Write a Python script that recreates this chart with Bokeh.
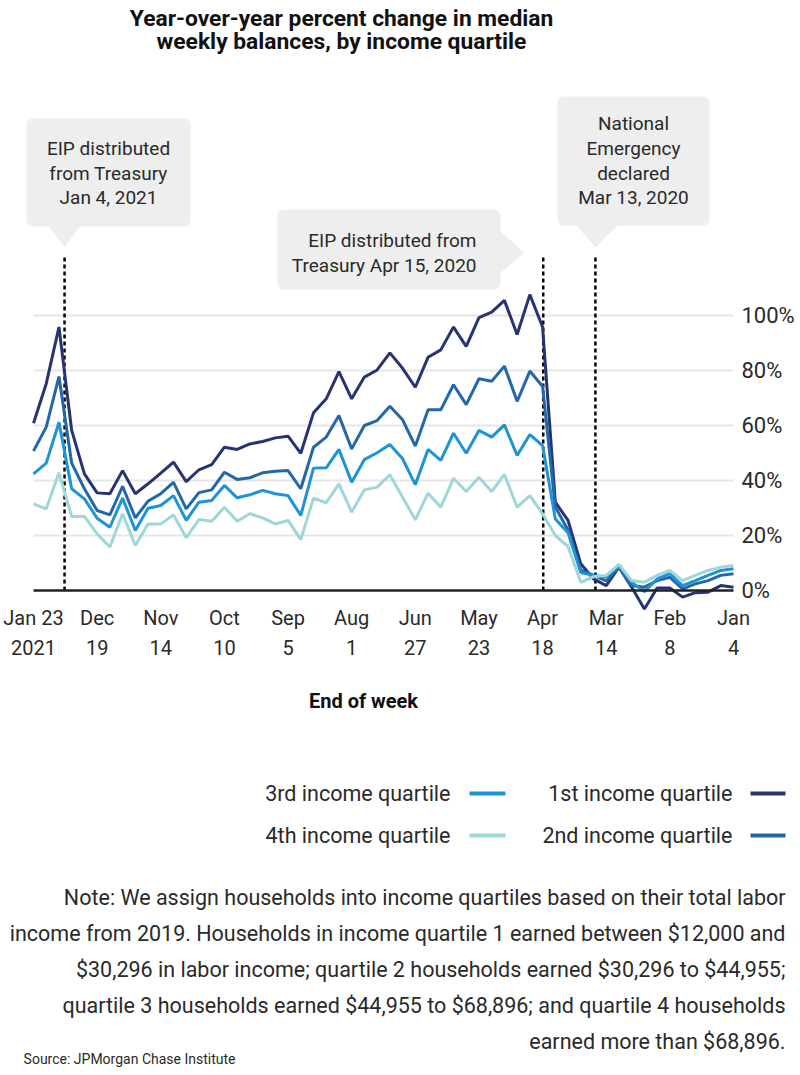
from bokeh.plotting import figure
from bokeh.models import (Range1d, FixedTicker, PrintfTickFormatter, Label, BoxAnnotation)
from bokeh.embed import file_html
from bokeh.resources import INLINE

# ---------------- data ----------------
tick_weeks = [0, 5, 10, 15, 20, 25, 30, 35, 40, 45, 50, 55]
tick_labels = ["Jan\n4", "Feb\n8", "Mar\n14", "Apr\n18", "May\n23", "Jun\n27",
               "Aug\n1", "Sep\n5", "Oct\n10", "Nov\n14", "Dec\n19", "Jan 23\n2021"]
y_ticks = [0, 20, 40, 60, 80, 100]

q1 = [1.2, 1.8, -0.6, -0.8, -2.4, 0.9, 0.9, -6.7, 1.2, 8.5,
      1.8, 4.2, 9.7, 25.5, 32.1, 95.8, 107.6, 93.1, 105.5, 101.2,
      99.2, 88.8, 95.8, 87.5, 84.8, 73.9, 80.8, 86.4, 80.2, 77.6,
      69.7, 79.6, 69.7, 64.6, 49.9, 56.1, 55.5, 54.2, 53.3, 51.3,
      52.1, 45.8, 43.9, 39.6, 46.7, 42.7, 38.8, 35.2, 43.6, 35.2,
      35.5, 42.4, 58.2, 95.8, 75.2, 60.8]
q2 = [6.1, 5.5, 3.6, 2.4, 0.6, 4.8, 3.6, 1.2, 1.8, 8.5,
      3.5, 5.5, 7.5, 22.0, 30.3, 74.2, 79.8, 68.8, 81.6, 76.1,
      77.0, 67.6, 74.8, 65.7, 65.7, 52.5, 62.1, 67.0, 61.8, 60.0,
      51.5, 63.6, 55.8, 52.1, 37.0, 43.6, 43.4, 42.8, 41.0, 40.4,
      43.0, 36.6, 35.6, 29.7, 39.3, 35.2, 32.5, 26.4, 37.9, 27.5,
      29.1, 37.0, 46.3, 77.8, 59.4, 50.7]
q3 = [7.9, 7.3, 5.5, 3.6, 1.8, 6.1, 4.2, -0.4, 3.0, 9.0,
      5.0, 5.5, 6.5, 21.0, 26.0, 52.7, 56.7, 49.1, 60.2, 55.8,
      58.2, 49.9, 57.2, 47.3, 51.3, 38.5, 47.9, 53.1, 50.1, 47.6,
      39.4, 51.3, 44.6, 44.5, 27.3, 34.5, 35.2, 36.4, 34.8, 33.7,
      38.2, 32.7, 32.1, 25.5, 34.5, 30.9, 29.9, 21.8, 33.6, 23.0,
      26.3, 33.3, 37.0, 61.2, 46.3, 42.4]
q4 = [9.1, 8.5, 7.3, 5.5, 3.6, 7.3, 5.5, 3.0, 3.6, 9.5,
      5.5, 5.0, 3.0, 16.0, 20.0, 27.9, 34.5, 30.3, 42.2, 36.0,
      41.2, 36.0, 40.8, 30.3, 35.4, 25.7, 33.9, 42.1, 37.6, 36.6,
      28.5, 38.8, 31.9, 33.6, 18.5, 25.5, 24.2, 26.4, 27.9, 25.2,
      30.3, 25.2, 25.8, 19.2, 27.5, 24.2, 24.2, 16.4, 27.9, 15.8,
      20.6, 27.0, 26.9, 42.8, 29.7, 31.5]
weeks = list(range(len(q1)))

series_names = ["1st income quartile", "2nd income quartile",
                "3rd income quartile", "4th income quartile"]
series_colors = ["#283372", "#2268a8", "#1e93d6", "#9fd6da"]

event_weeks = [52.56, 14.95, 10.85]
event_texts = [["EIP distributed", "from Treasury", "Jan 4, 2021"],
               ["EIP distributed from", "Treasury Apr 15, 2020"],
               ["National", "Emergency", "declared", "Mar 13, 2020"]]

title_lines = ["Year-over-year percent change in median",
               "weekly balances, by income quartile"]
note_lines = [
    "Note: We assign households into income quartiles based on their total labor",
    "income from 2019. Households in income quartile 1 earned between $12,000 and",
    "$30,296 in labor income; quartile 2 households earned $30,296 to $44,955;",
    "quartile 3 households earned $44,955 to $68,896; and quartile 4 households",
    "earned more than $68,896.",
]
source_text = "Source: JPMorgan Chase Institute"
x_title = "End of week"

FONT = "Roboto"
TXT = "#2a2a2a"

# ---------------- layout helpers (pixel position -> data position) ----------------
PX_WEEK = 700 / 55.0      # pixels per week
PX_PCT = 2.75             # pixels per percentage point
X0_PX, Y0_PX = 733, 590   # pixel position of week 0 / 0 %


def X(px):
    return (X0_PX - px) / PX_WEEK


def Y(py):
    return (Y0_PX - py) / PX_PCT


W, H = 800, 1075
p = figure(title=None, toolbar_location=None, output_backend="svg",
           width=W, height=H, min_border=0,
           x_range=Range1d(X(0), X(W)), y_range=Range1d(Y(H), Y(0)),
           y_axis_location="right")
p.outline_line_color = None
p.background_fill_color = "white"
p.border_fill_color = "white"
p.grid.visible = False

# x axis pinned at 0 %
p.xaxis.fixed_location = 0
p.xaxis.bounds = (0, 55)
p.xaxis.ticker = FixedTicker(ticks=tick_weeks)
p.xaxis.major_label_overrides = {w: l for w, l in zip(tick_weeks, tick_labels)}
p.xaxis.axis_line_color = "#222222"
p.xaxis.axis_line_width = 2.5
p.xaxis.major_tick_line_color = None
p.xaxis.minor_tick_line_color = None
p.xaxis.major_label_text_font = FONT
p.xaxis.major_label_text_font_size = "20px"
p.xaxis.major_label_text_color = TXT
p.xaxis.major_label_text_line_height = 1.25
p.xaxis.major_label_standoff = 9

# y axis pinned at week 0 (right side of the chart)
p.yaxis.fixed_location = 0
p.yaxis.bounds = (0, 100)
p.yaxis.ticker = FixedTicker(ticks=y_ticks)
p.yaxis.formatter = PrintfTickFormatter(format="%d%%")
p.yaxis.axis_line_color = None
p.yaxis.major_tick_line_color = None
p.yaxis.minor_tick_line_color = None
p.yaxis.major_label_text_font = FONT
p.yaxis.major_label_text_font_size = "22px"
p.yaxis.major_label_text_color = TXT
p.yaxis.major_label_standoff = 2

# horizontal grid lines across the data span
grid_vals = y_ticks[1:]
p.segment(x0=[weeks[-1]] * len(grid_vals), x1=[weeks[0]] * len(grid_vals),
          y0=grid_vals, y1=grid_vals, line_color="#e6e6e6", line_width=2, level="underlay")

# callout boxes
box_fill = "#eeeeee"
boxes_px = [(26, 190, 118, 226), (277, 500, 209, 289), (557, 709, 96, 225)]
for (l, r, t, b) in boxes_px:
    p.add_layout(BoxAnnotation(left=X(l), right=X(r), top=Y(t), bottom=Y(b),
                               fill_color=box_fill, fill_alpha=1, line_color=None,
                               border_radius=6, level="underlay"))
p.patch([X(48), X(80), event_weeks[0]], [Y(225), Y(225), Y(247)],
        fill_color=box_fill, line_color=None, level="underlay")
p.patch([X(499), X(499), X(524)], [Y(230), Y(273), Y(252)],
        fill_color=box_fill, line_color=None, level="underlay")
p.patch([X(575), X(618), event_weeks[2]], [Y(224), Y(224), Y(247)],
        fill_color=box_fill, line_color=None, level="underlay")

# event dashed lines
p.segment(x0=event_weeks, y0=[0] * 3, x1=event_weeks, y1=[Y(257)] * 3,
          line_color="black", line_width=2.5, line_dash="4 3")

# data lines
for vals, c in zip([q1, q2, q3, q4], series_colors):
    p.line(weeks, vals, line_color=c, line_width=3)


def lab(px, py, text, size="19px", align="center", bold=False, color=TXT):
    p.add_layout(Label(x=X(px), y=Y(py), text=text, text_font=FONT, text_font_size=size,
                       text_align=align, text_baseline="middle", text_color=color,
                       text_font_style="bold" if bold else "normal"))


for t, y in zip(event_texts[0], [148, 173, 197]):
    lab(108, y, t)
for t, y in zip(event_texts[1], [240, 265]):
    lab(476, y, t, align="right")
for t, y in zip(event_texts[2], [123, 148, 173, 197]):
    lab(633, y, t)

for t, y in zip(title_lines, [17.5, 40.5]):
    lab(341, y, t, size="22.8px", bold=True, color="#111111")

lab(363, 700, x_title, size="20px", bold=True, color="#111111")

# legend (text followed by its swatch)
leg_text_px = [732, 732, 450, 450]
leg_y_px = [793, 835, 793, 835]
sw_x0_px = [750, 750, 469, 469]
sw_x1_px = [785, 785, 505, 505]
for name, tx, ty in zip(series_names, leg_text_px, leg_y_px):
    lab(tx, ty, name, size="21.5px", align="right")
p.segment(x0=[X(v) for v in sw_x0_px], x1=[X(v) for v in sw_x1_px],
          y0=[Y(v) for v in leg_y_px], y1=[Y(v) for v in leg_y_px],
          line_color=series_colors, line_width=4)

for t, y in zip(note_lines, [897, 933, 969, 1005, 1041]):
    lab(785, y, t, size="21.5px", align="right")
lab(235, 1058, source_text, size="14px", align="right")

open("out.html", "w").write(file_html(p, INLINE))
